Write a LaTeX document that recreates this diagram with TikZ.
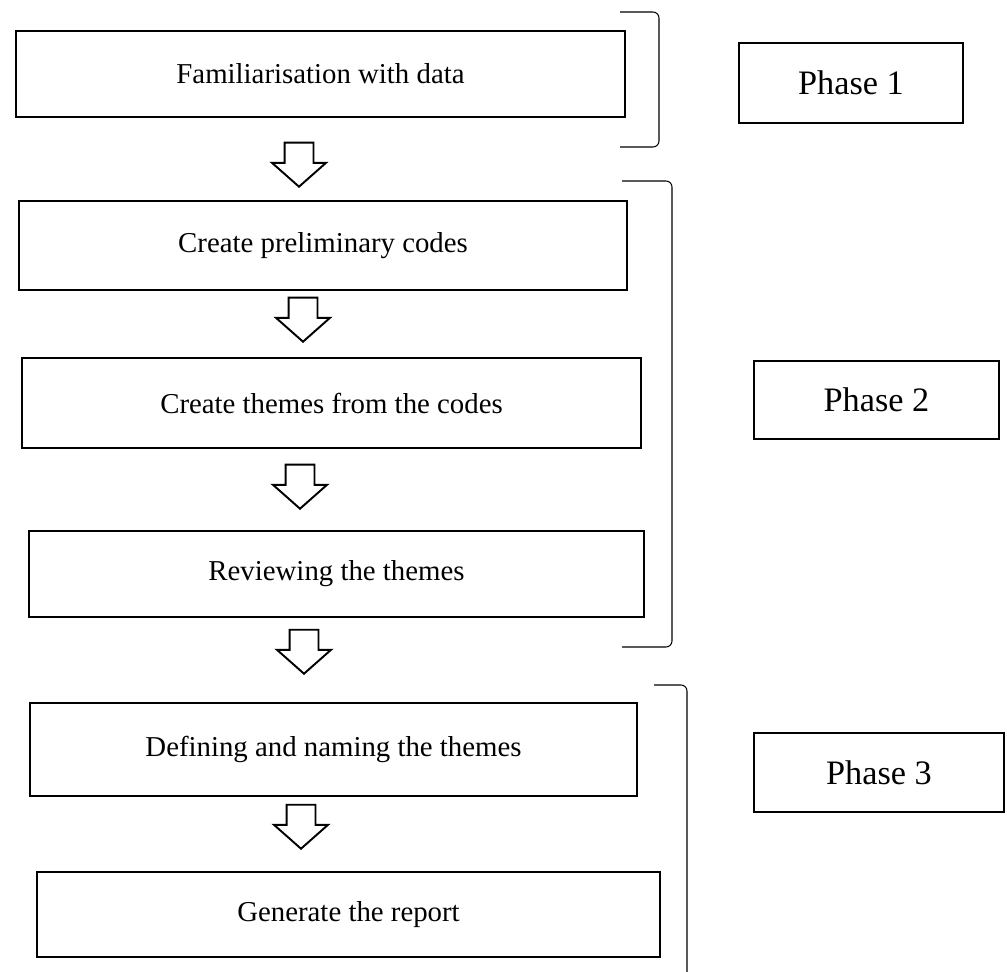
\documentclass[tikz,border=0pt]{standalone}
\usepackage{fontspec}
\setmainfont{Liberation Serif}
\usetikzlibrary{shapes.arrows}

\tikzset{
  stage/.style={draw,line width=1.1pt,rectangle,inner sep=0pt,font=\fontsize{16.4}{20}\selectfont},
  phase/.style={draw,line width=1.1pt,rectangle,inner sep=0pt,font=\fontsize{19.5}{23}\selectfont},
  downarrow/.style={draw,line width=1.1pt,single arrow,rotate=-90,anchor=tip,
    minimum height=0.88cm,inner sep=0.27cm,single arrow head extend=0.25cm,single arrow tip angle=97},
  bracket/.style={line width=.6pt,rounded corners=.12cm}
}

\begin{document}
\begin{tikzpicture}[x=0.02cm,y=-0.02cm]
\useasboundingbox (0,0) rectangle (1007,972);
% stages
\node[stage,minimum width=12.18cm,minimum height=1.72cm] (familiar) at (320.5,74) {Familiarisation with data};
\node[stage,minimum width=12.16cm,minimum height=1.78cm] (prelim) at (323,245.5) {Create preliminary codes};
\node[stage,minimum width=12.38cm,minimum height=1.80cm] (themes) at (331.5,403) {Create themes from the codes};
\node[stage,minimum width=12.30cm,minimum height=1.72cm] (review) at (336.5,574) {Reviewing the themes};
\node[stage,minimum width=12.14cm,minimum height=1.86cm] (define) at (333.5,749.5) {Defining and naming the themes};
\node[stage,minimum width=12.46cm,minimum height=1.70cm] (report) at (348.5,914.5) {Generate the report};
% arrows between stages
\node[downarrow] (a1) at (299,188) {};
\node[downarrow] (a2) at (303,343) {};
\node[downarrow] (a3) at (300,510) {};
\node[downarrow] (a4) at (304,675) {};
\node[downarrow] (a5) at (301,850) {};
% brackets
\draw[bracket] (620,12)--(659,12)--(659,147)--(620,147);
\draw[bracket] (622,181)--(672,181)--(672,647)--(622,647);
\draw[bracket] (654,685)--(687,685)--(687,980);
% phases
\node[phase,minimum width=4.48cm,minimum height=1.60cm] (phase1) at (851,83) {Phase 1};
\node[phase,minimum width=4.90cm,minimum height=1.56cm] (phase2) at (876.5,400) {Phase 2};
\node[phase,minimum width=5.00cm,minimum height=1.58cm] (phase3) at (879,772.5) {Phase 3};
\end{tikzpicture}
\end{document}
